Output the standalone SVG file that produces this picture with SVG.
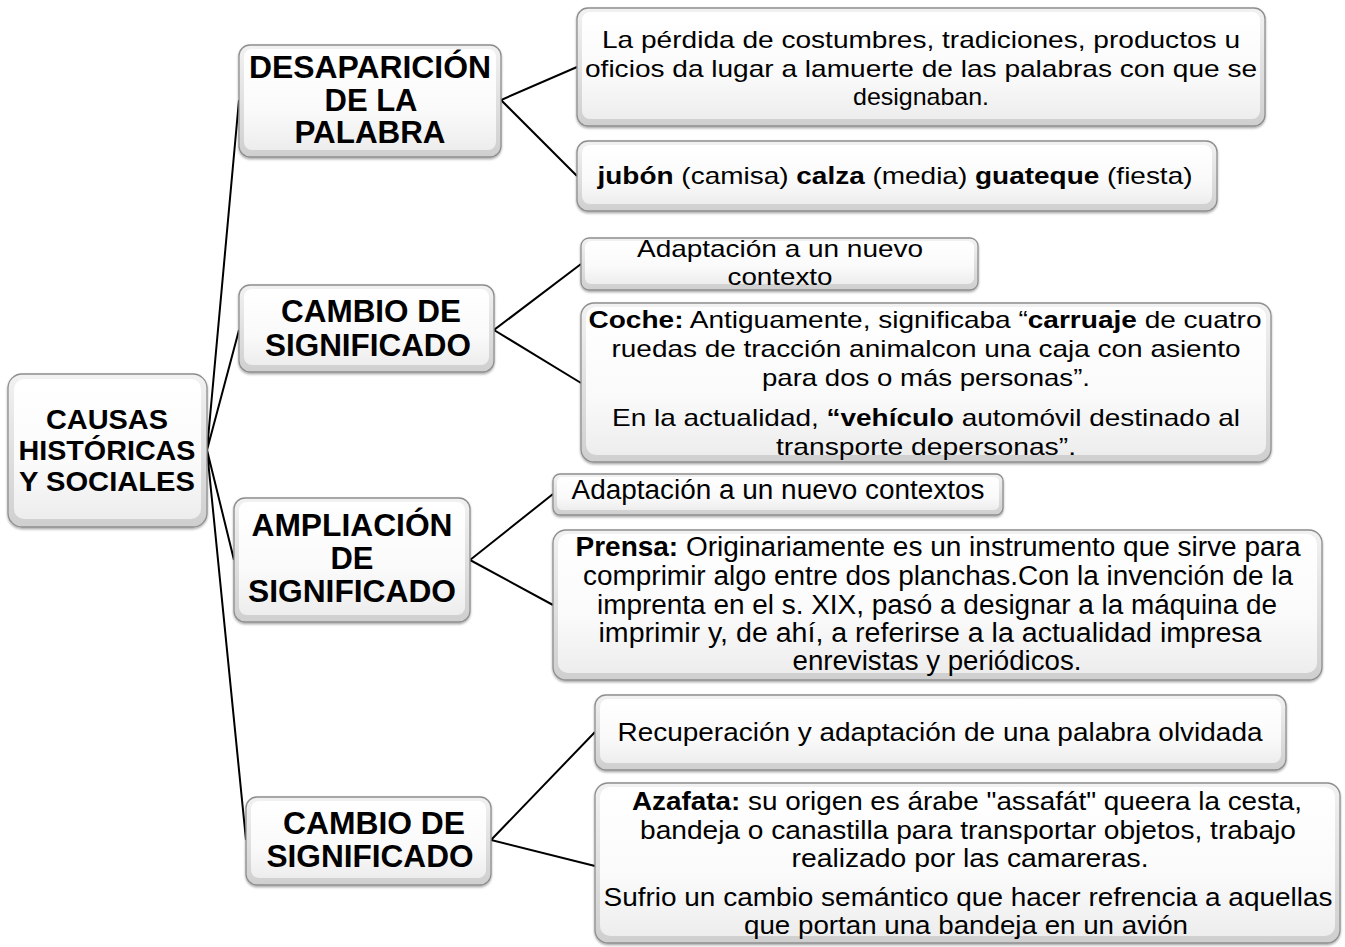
<svg xmlns="http://www.w3.org/2000/svg" width="1345" height="947" viewBox="0 0 1345 947">
<defs>
<linearGradient id="gOuter" x1="0" y1="0" x2="0" y2="1">
<stop offset="0" stop-color="#f2f2f2"/>
<stop offset="1" stop-color="#cfcfcf"/>
</linearGradient>
<linearGradient id="gInner" x1="0" y1="0" x2="0" y2="1">
<stop offset="0" stop-color="#ffffff"/>
<stop offset="0.6" stop-color="#fafafa"/>
<stop offset="1" stop-color="#ededed"/>
</linearGradient>
<filter id="sh" x="-5%" y="-5%" width="110%" height="115%">
<feDropShadow dx="0" dy="1.5" stdDeviation="1.2" flood-color="#000" flood-opacity="0.35"/>
</filter>
</defs>
<style>
.box{fill:url(#gOuter);stroke:#8e8e8e;stroke-width:1.3;filter:url(#sh)}
.inner{fill:url(#gInner);stroke:none}
.t1{font-family:"Liberation Sans",Arial,sans-serif;font-weight:bold;font-size:31px;fill:#000;text-anchor:middle}
.t0{font-family:"Liberation Sans",Arial,sans-serif;font-weight:bold;font-size:28px;fill:#000;text-anchor:middle}
.t2{font-family:"Liberation Sans",Arial,sans-serif;font-size:24px;fill:#000;text-anchor:middle}
.t3{font-family:"Liberation Sans",Arial,sans-serif;font-size:27px;fill:#000;text-anchor:middle}
.t4{font-family:"Liberation Sans",Arial,sans-serif;font-size:25px;fill:#000;text-anchor:middle}
.b{font-weight:bold}
.con{stroke:#000;stroke-width:2;fill:none}
</style>
<rect width="1345" height="947" fill="#ffffff"/>
<g id="connectors">
<polyline class="con" points="239,100 207,450 239,330"/>
<polyline class="con" points="234,560 207,450 246,840"/>
<polyline class="con" points="577,67 501,100 577,176"/>
<polyline class="con" points="581,264 494,330 581,383"/>
<polyline class="con" points="553,494 470,560 553,605"/>
<polyline class="con" points="595,732 491,840 595,866"/>
</g>
<g id="root">
<rect class="box" x="8" y="374" width="199" height="153" rx="14"/>
<rect class="inner" x="14" y="379" width="187" height="140" rx="10"/>
<text class="t0" x="107" y="429" textLength="122" lengthAdjust="spacingAndGlyphs">CAUSAS</text>
<text class="t0" x="107" y="460" textLength="177" lengthAdjust="spacingAndGlyphs">HISTÓRICAS</text>
<text class="t0" x="107" y="491" textLength="176" lengthAdjust="spacingAndGlyphs">Y SOCIALES</text>
</g>
<g id="n-desaparicion">
<rect class="box" x="239" y="45" width="262" height="112" rx="11"/>
<rect class="inner" x="244" y="49" width="252" height="101" rx="8"/>
<text class="t1" x="370" y="78" textLength="242" lengthAdjust="spacingAndGlyphs">DESAPARICIÓN</text>
<text class="t1" x="371" y="111" textLength="93" lengthAdjust="spacingAndGlyphs">DE LA</text>
<text class="t1" x="370" y="143" textLength="151" lengthAdjust="spacingAndGlyphs">PALABRA</text>
</g>
<g id="n-cambio1">
<rect class="box" x="239" y="285" width="255" height="87" rx="11"/>
<rect class="inner" x="244" y="289" width="245" height="76" rx="8"/>
<text class="t1" x="371" y="322" textLength="180" lengthAdjust="spacingAndGlyphs">CAMBIO DE</text>
<text class="t1" x="368" y="356" textLength="206" lengthAdjust="spacingAndGlyphs">SIGNIFICADO</text>
</g>
<g id="n-ampliacion">
<rect class="box" x="234" y="498" width="236" height="124" rx="11"/>
<rect class="inner" x="239" y="502" width="226" height="113" rx="8"/>
<text class="t1" x="352" y="536" textLength="201" lengthAdjust="spacingAndGlyphs">AMPLIACIÓN</text>
<text class="t1" x="352" y="569" textLength="43" lengthAdjust="spacingAndGlyphs">DE</text>
<text class="t1" x="352" y="602" textLength="208" lengthAdjust="spacingAndGlyphs">SIGNIFICADO</text>
</g>
<g id="n-cambio2">
<rect class="box" x="246" y="797" width="245" height="88" rx="11"/>
<rect class="inner" x="251" y="801" width="235" height="77" rx="8"/>
<text class="t1" x="374" y="834" textLength="182" lengthAdjust="spacingAndGlyphs">CAMBIO DE</text>
<text class="t1" x="370" y="867" textLength="207" lengthAdjust="spacingAndGlyphs">SIGNIFICADO</text>
</g>
<g id="a1">
<rect class="box" x="577" y="8" width="688" height="118" rx="11"/>
<rect class="inner" x="582" y="12" width="678" height="107" rx="8"/>
<text class="t2" x="921" y="48" textLength="638" lengthAdjust="spacingAndGlyphs">La pérdida de costumbres, tradiciones, productos u</text>
<text class="t2" x="921" y="77" textLength="672" lengthAdjust="spacingAndGlyphs">oficios da lugar a lamuerte de las palabras con que se</text>
<text class="t2" x="921" y="105" textLength="136" lengthAdjust="spacingAndGlyphs">designaban.</text>
</g>
<g id="a2">
<rect class="box" x="577" y="141" width="640" height="70" rx="11"/>
<rect class="inner" x="582" y="145" width="630" height="59" rx="8"/>
<text class="t2" x="895" y="184" textLength="595" lengthAdjust="spacingAndGlyphs"><tspan class="b">jubón</tspan> (camisa) <tspan class="b">calza</tspan> (media) <tspan class="b">guateque</tspan> (fiesta)</text>
</g>
<g id="b1">
<rect class="box" x="581" y="238" width="397" height="52" rx="8"/>
<rect class="inner" x="585" y="241" width="389" height="43" rx="6"/>
<text class="t2" x="780" y="257" textLength="286" lengthAdjust="spacingAndGlyphs">Adaptación a un nuevo</text>
<text class="t2" x="780" y="285" textLength="105" lengthAdjust="spacingAndGlyphs">contexto</text>
</g>
<g id="b2">
<rect class="box" x="581" y="303" width="690" height="159" rx="13"/>
<rect class="inner" x="586" y="307" width="680" height="148" rx="10"/>
<text class="t2" x="925" y="328" textLength="673" lengthAdjust="spacingAndGlyphs"><tspan class="b">Coche:</tspan> Antiguamente, significaba “<tspan class="b">carruaje</tspan> de cuatro</text>
<text class="t2" x="926" y="357" textLength="629" lengthAdjust="spacingAndGlyphs">ruedas de tracción animalcon una caja con asiento</text>
<text class="t2" x="926" y="386" textLength="328" lengthAdjust="spacingAndGlyphs">para dos o más personas”.</text>
<text class="t2" x="926" y="426" textLength="628" lengthAdjust="spacingAndGlyphs">En la actualidad, <tspan class="b">“vehículo</tspan> automóvil destinado al</text>
<text class="t2" x="926" y="455" textLength="300" lengthAdjust="spacingAndGlyphs">transporte depersonas”.</text>
</g>
<g id="c1">
<rect class="box" x="553" y="474" width="450" height="41" rx="7"/>
<rect class="inner" x="557" y="477" width="442" height="33" rx="5"/>
<text class="t3" x="778" y="499" textLength="413" lengthAdjust="spacingAndGlyphs">Adaptación a un nuevo contextos</text>
</g>
<g id="c2">
<rect class="box" x="553" y="530" width="769" height="150" rx="13"/>
<rect class="inner" x="558" y="534" width="759" height="139" rx="10"/>
<text class="t3" x="938" y="556" textLength="725" lengthAdjust="spacingAndGlyphs"><tspan class="b">Prensa:</tspan> Originariamente es un instrumento que sirve para</text>
<text class="t3" x="938" y="585" textLength="710" lengthAdjust="spacingAndGlyphs">comprimir algo entre dos planchas.Con la invención de la</text>
<text class="t3" x="937" y="614" textLength="680" lengthAdjust="spacingAndGlyphs">imprenta en el s. XIX, pasó a designar a la máquina de</text>
<text class="t3" x="930" y="642" textLength="663" lengthAdjust="spacingAndGlyphs">imprimir y, de ahí, a referirse a la actualidad impresa</text>
<text class="t3" x="937" y="670" textLength="289" lengthAdjust="spacingAndGlyphs">enrevistas y periódicos.</text>
</g>
<g id="d1">
<rect class="box" x="595" y="695" width="691" height="75" rx="11"/>
<rect class="inner" x="600" y="699" width="681" height="64" rx="8"/>
<text class="t4" x="940" y="741" textLength="645" lengthAdjust="spacingAndGlyphs">Recuperación y adaptación de una palabra olvidada</text>
</g>
<g id="d2">
<rect class="box" x="595" y="783" width="745" height="160" rx="13"/>
<rect class="inner" x="600" y="787" width="735" height="149" rx="10"/>
<text class="t4" x="967" y="810" textLength="670" lengthAdjust="spacingAndGlyphs"><tspan class="b">Azafata:</tspan> su origen es árabe "assafát" queera la cesta,</text>
<text class="t4" x="968" y="839" textLength="656" lengthAdjust="spacingAndGlyphs">bandeja o canastilla para transportar objetos, trabajo</text>
<text class="t4" x="970" y="867" textLength="357" lengthAdjust="spacingAndGlyphs">realizado por las camareras.</text>
<text class="t4" x="968" y="906" textLength="729" lengthAdjust="spacingAndGlyphs">Sufrio un cambio semántico que hacer refrencia a aquellas</text>
<text class="t4" x="966" y="934" textLength="444" lengthAdjust="spacingAndGlyphs">que portan una bandeja en un avión</text>
</g>
</svg>
